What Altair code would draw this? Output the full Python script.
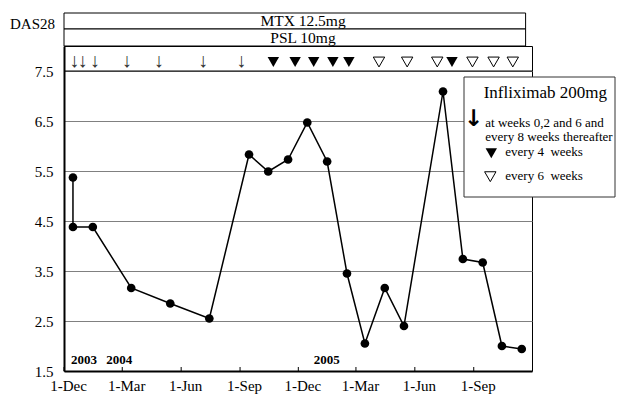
import altair as alt
import pandas as pd

FONT = "Liberation Serif"

# ---- data ----
obs_dates = ["2003-12-15", "2003-12-15", "2004-01-15", "2004-03-15", "2004-05-15",
             "2004-07-15", "2004-09-15", "2004-10-15", "2004-11-15", "2004-12-15",
             "2005-01-15", "2005-02-15", "2005-03-15", "2005-04-15", "2005-05-15",
             "2005-07-15", "2005-08-15", "2005-09-15", "2005-10-15", "2005-11-15"]
das28 = [5.37, 4.38, 4.38, 3.16, 2.85, 2.55, 5.83, 5.49, 5.73, 6.47,
         5.69, 3.45, 2.05, 3.16, 2.40, 7.09, 3.74, 3.67, 2.00, 1.94]

arrow_dates = ["2003-12-17", "2003-12-30", "2004-01-18", "2004-03-08",
               "2004-04-27", "2004-07-05", "2004-09-03"]
q4w_dates = ["2004-10-23", "2004-11-26", "2004-12-25", "2005-01-24",
             "2005-02-18", "2005-07-29"]
q6w_dates = ["2005-04-06", "2005-05-20", "2005-07-06", "2005-08-30",
             "2005-10-02", "2005-11-01"]

year_labels = ["2003", "2004", "2005"]
year_dates = ["2003-12-12", "2004-02-05", "2004-12-25"]

tick_dates = [(2003, 12), (2004, 3), (2004, 6), (2004, 9),
              (2004, 12), (2005, 3), (2005, 6), (2005, 9)]
y_ticks = [1.5, 2.5, 3.5, 4.5, 5.5, 6.5, 7.5]

drug_boxes = ["MTX 12.5mg", "PSL 10mg"]
box_start = "2003-12-01"
box_end = "2005-11-21"

legend_title = "Infliximab 200mg"
legend_lines = ["at weeks 0,2 and 6 and", "every 8 weeks thereafter"]
legend_q4w = "every 4\u00a0 weeks"
legend_q6w = "every 6\u00a0 weeks"

W, H = 468, 325
ROW_Y = 7.7


def t(s):
    return s + "T00:00:00"


obs = pd.DataFrame({"date": [t(d) for d in obs_dates], "das28": das28,
                    "i": list(range(len(das28)))})
arrows = pd.DataFrame({"date": [t(d) for d in arrow_dates], "y": ROW_Y})
q4w = pd.DataFrame({"date": [t(d) for d in q4w_dates], "y": ROW_Y - 0.02})
q6w = pd.DataFrame({"date": [t(d) for d in q6w_dates], "y": ROW_Y - 0.02})
years = pd.DataFrame({"date": [t(d) for d in year_dates], "label": year_labels, "y": 1.72})
ticks = pd.DataFrame({"date": [f"{y}-{m:02d}-01T00:00:00" for y, m in tick_dates]})
boxes = pd.DataFrame({"start": [t(box_start)] * 2, "end": [t(box_end)] * 2,
                      "label": drug_boxes})

xscale = alt.Scale(domain=[alt.DateTime(year=2003, month=12, date=1),
                           alt.DateTime(year=2005, month=12, date=1)])
yscale = alt.Scale(domain=[1.5, 8.0], nice=False, zero=False)

xaxis = alt.Axis(values=[alt.DateTime(year=y, month=m, date=1) for y, m in tick_dates],
                 format="%-d-%b", title=None, grid=False, ticks=False,
                 labelFont=FONT, labelFontSize=15, labelColor="black",
                 labelPadding=7, labelOffset=4, labelFlush=False,
                 domainColor="black", domainWidth=2)
yaxis = alt.Axis(values=y_ticks, format=".1f", title=None, ticks=False,
                 labelFont=FONT, labelFontSize=15, labelColor="black",
                 labelPadding=11, grid=True, gridColor="#808080", gridWidth=1,
                 domainColor="black", domainWidth=2)

base_x = alt.X("date:T", scale=xscale, axis=xaxis)

line = alt.Chart(obs).mark_line(color="black", strokeWidth=1.5).encode(
    x=base_x, y=alt.Y("das28:Q", scale=yscale, axis=yaxis), order="i:Q")
pts = alt.Chart(obs).mark_circle(color="black", size=75, opacity=1).encode(
    x="date:T", y="das28:Q")

row_rule = alt.Chart(pd.DataFrame({"v": [7.5]})).mark_rule(
    color="black", strokeWidth=1).encode(y="v:Q")

tick_marks = alt.Chart(ticks).mark_rule(color="black", strokeWidth=1).encode(
    x="date:T", y=alt.value(H), y2=alt.value(H - 4))

arrow_marks = alt.Chart(arrows).mark_text(
    text="↓", font=FONT, fontSize=20, color="#333333", baseline="middle").encode(
    x="date:T", y="y:Q")
q4w_marks = alt.Chart(q4w).mark_point(
    shape="triangle-down", size=130, filled=True, color="black", opacity=1).encode(
    x="date:T", y="y:Q")
q6w_marks = alt.Chart(q6w).mark_point(
    shape="triangle-down", size=130, filled=True, fill="white", stroke="black",
    strokeWidth=1, opacity=1).encode(x="date:T", y="y:Q")

year_text = alt.Chart(years).mark_text(
    font=FONT, fontSize=13, fontWeight="bold", color="black", align="left",
    baseline="middle").encode(x="date:T", y="y:Q", text="label:N")

box_layers = []
for k, (y0, y1, ty) in enumerate([(-33, -17, -25), (-17, 0, -8.5)]):
    d = boxes.iloc[[k]]
    box_layers.append(alt.Chart(d).mark_rect(fill="white", stroke="black", strokeWidth=1).encode(
        x="start:T", x2="end:T", y=alt.value(y0), y2=alt.value(y1)))
    box_layers.append(alt.Chart(d).mark_text(
        font=FONT, fontSize=15.5, color="black", align="center", baseline="middle").encode(
        x=alt.value(239), y=alt.value(ty), text="label:N"))


def label(txt, x, y, size, align="left", weight="normal", font=FONT):
    return alt.Chart(pd.DataFrame({"t": [txt]})).mark_text(
        font=font, fontSize=size, color="black", align=align, baseline="middle",
        fontWeight=weight).encode(x=alt.value(x), y=alt.value(y), text="t:N")


das_title = label("DAS28", -9, -22, 15, align="right")

# legend box
leg_box = alt.Chart(pd.DataFrame({"a": [0]})).mark_rect(
    fill="white", stroke="#333333", strokeWidth=1).encode(
    x=alt.value(400), x2=alt.value(551), y=alt.value(31), y2=alt.value(151))
leg = [
    leg_box,
    label(legend_title, 419.7, 46.7, 17),
    label("↓", 409.7, 72.5, 23, align="center", weight="bold", font="DejaVu Sans"),
    label(legend_lines[0], 421.3, 76.8, 13),
    label(legend_lines[1], 421.3, 90.5, 13),
    alt.Chart(pd.DataFrame({"a": [0]})).mark_point(
        shape="triangle-down", size=130, filled=True, color="black", opacity=1).encode(
        x=alt.value(427.3), y=alt.value(107.3)),
    label(legend_q4w, 441.3, 105.7, 13),
    alt.Chart(pd.DataFrame({"a": [0]})).mark_point(
        shape="triangle-down", size=130, filled=True, fill="white", stroke="black",
        strokeWidth=1, opacity=1).encode(x=alt.value(426.3), y=alt.value(130.7)),
    label(legend_q6w, 441.3, 130, 13),
]

chart = alt.layer(
    line, pts, row_rule, tick_marks, arrow_marks, q4w_marks, q6w_marks, year_text,
    *box_layers, das_title, *leg
).properties(
    width=W, height=H,
    autosize=alt.AutoSizeParams(type="none"),
    padding={"left": 56, "top": 38, "right": 84, "bottom": 24},
    background="white",
).configure_view(stroke="black", strokeWidth=1)

chart.save("out.html", embed_options={"renderer": "svg", "actions": False})
